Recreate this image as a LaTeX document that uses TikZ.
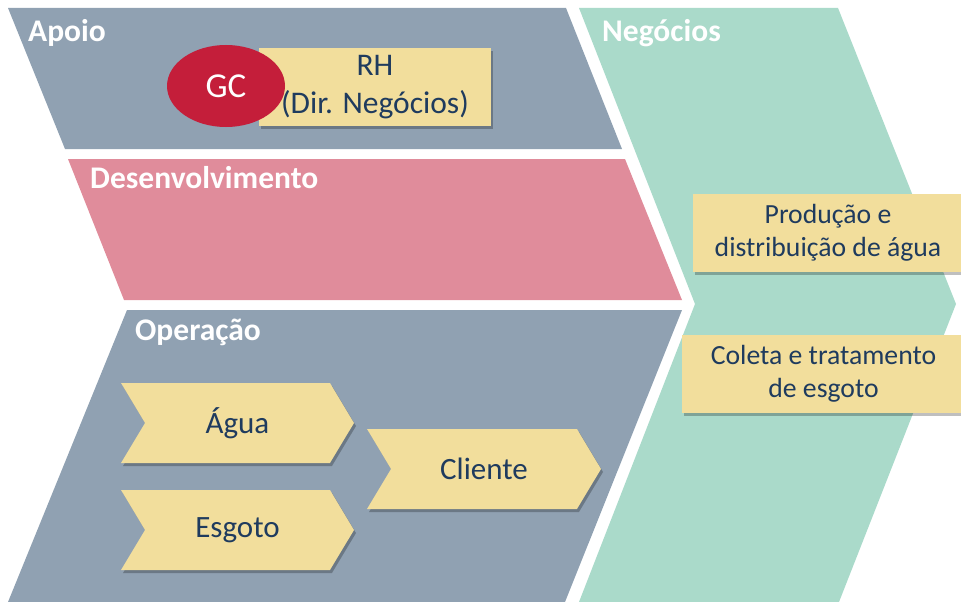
\documentclass[tikz,border=0pt]{standalone}
\usepackage{fontspec}
\setmainfont{Carlito}
\usepackage{xcolor}
\definecolor{OPcolor}{HTML}{90A1B2}
\definecolor{DEScolor}{HTML}{E08C9B}
\definecolor{NEGcolor}{HTML}{AADACA}
\definecolor{BOXcolor}{HTML}{F2DE9C}
\definecolor{TXTcolor}{HTML}{1F3B5E}
\definecolor{GCcolor}{HTML}{C41E3A}
\usetikzlibrary{shapes.geometric, shapes.symbols, shadows}

\begin{document}
\begin{tikzpicture}[x=1pt, y=-1pt]
    \tikzset{%
        bandlabel/.style={anchor=base west, inner sep=0pt, text=white, font=\bfseries\fontsize{31.5}{31.5}\selectfont},
        yellowbox/.style={rectangle, fill=BOXcolor, text=TXTcolor, align=center, inner sep=0pt,
                drop shadow={shadow xshift=2pt, shadow yshift=-3pt, fill=black, opacity=0.25}},
        chevbox/.style={yellowbox, signal, signal from=west, signal to=east, signal pointer angle=118,
                minimum width=233pt, minimum height=80pt, font=\fontsize{31}{37}\selectfont}
    }

    \clip (0, 0) rectangle (961, 602);

    % bands
    \fill [OPcolor] (8, 8) -- (566, 8) -- (622, 149) -- (65, 149) -- cycle;
    \fill [DEScolor] (68, 159) -- (625, 159) -- (682, 300) -- (124, 300) -- cycle;
    \fill [OPcolor] (127, 310) -- (682, 310) -- (565, 602) -- (8, 602) -- cycle;
    \fill [NEGcolor] (579, 8) -- (838, 8) -- (956, 304) -- (839, 602) -- (579, 602) -- (695, 304) -- cycle;

    \node [bandlabel] (apoio) at (28, 42) {Apoio};
    \node [bandlabel] (desenv) at (90, 188) {Desenvolvimento};
    \node [bandlabel] (negocios) at (602, 42) {Negócios};
    \node [bandlabel] (operacao) at (135, 340) {Operação};

    % Apoio
    \node [yellowbox, minimum width=232pt, minimum height=78pt, font=\fontsize{31.5}{38}\selectfont] (rh) at (375, 87) {RH\\(Dir. Negócios)};
    \node [ellipse, fill=GCcolor, text=white, minimum width=118pt, minimum height=82pt, font=\fontsize{35}{35}\selectfont] (gc) at (226, 86) {GC};

    % Negócios
    \node [yellowbox, minimum width=270pt, minimum height=78pt, font=\fontsize{27.7}{33}\selectfont] (producao) at (828, 233) {Produção e\\distribuição de água};
    \node [yellowbox, minimum width=283pt, minimum height=78pt, font=\fontsize{27.7}{33}\selectfont] (coleta) at (823.5, 374) {Coleta e tratamento\\de esgoto};

    % Operação
    \node [chevbox] (agua) at (237.5, 423) {Água};
    \node [chevbox] (esgoto) at (237.5, 530) {Esgoto};
    \node [chevbox, minimum width=234pt] (cliente) at (484, 469) {Cliente};

\end{tikzpicture}
\end{document}
